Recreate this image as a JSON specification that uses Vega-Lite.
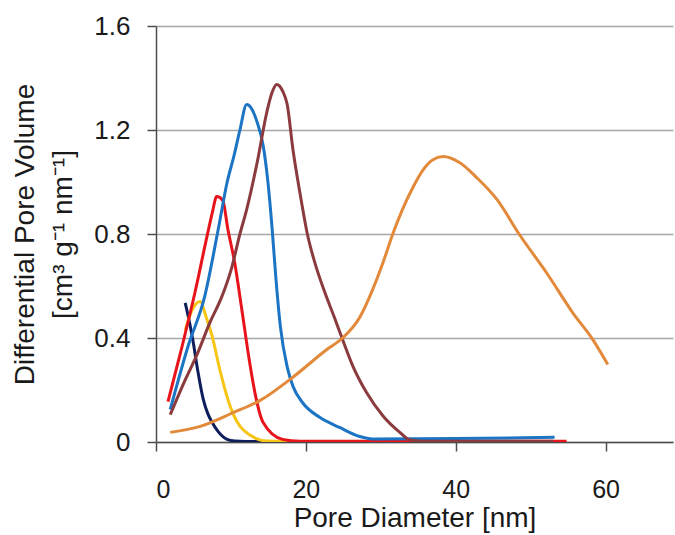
{
  "$schema": "https://vega.github.io/schema/vega-lite/v6.json",
  "width": 517,
  "height": 416,
  "autosize": {"type": "none"},
  "padding": {"left": 156, "top": 26, "right": 2, "bottom": 93},
  "background": "white",
  "config": {
    "view": {"stroke": null},
    "font": "Liberation Sans",
    "axis": {
      "labelFont": "Liberation Sans",
      "titleFont": "Liberation Sans",
      "labelColor": "#1a1a1a",
      "titleColor": "#1a1a1a",
      "titleFontWeight": "normal",
      "domainColor": "#4d4d4d",
      "domainWidth": 1.5,
      "tickColor": "#4d4d4d",
      "tickWidth": 1.5,
      "tickSize": 9
    }
  },
  "data": {
    "values": [
      {"s": "navy", "x": 3.9, "y": 0.535},
      {"s": "navy", "x": 4.4, "y": 0.47},
      {"s": "navy", "x": 4.9, "y": 0.395},
      {"s": "navy", "x": 5.6, "y": 0.27},
      {"s": "navy", "x": 6.3, "y": 0.165},
      {"s": "navy", "x": 6.9, "y": 0.11},
      {"s": "navy", "x": 7.5, "y": 0.075},
      {"s": "navy", "x": 8.3, "y": 0.04},
      {"s": "navy", "x": 9.5, "y": 0.01},
      {"s": "navy", "x": 10.5, "y": 0.004},
      {"s": "navy", "x": 12, "y": 0.002},
      {"s": "navy", "x": 20, "y": 0.001},
      {"s": "navy", "x": 48, "y": 0.001},

      {"s": "yellow", "x": 3.9, "y": 0.43},
      {"s": "yellow", "x": 4.7, "y": 0.5},
      {"s": "yellow", "x": 5.9, "y": 0.54},
      {"s": "yellow", "x": 6.7, "y": 0.48},
      {"s": "yellow", "x": 7.5, "y": 0.406},
      {"s": "yellow", "x": 8.5, "y": 0.28},
      {"s": "yellow", "x": 9.9, "y": 0.137},
      {"s": "yellow", "x": 11.6, "y": 0.048},
      {"s": "yellow", "x": 14.8, "y": 0.004},
      {"s": "yellow", "x": 20, "y": 0.002},
      {"s": "yellow", "x": 43, "y": 0.002},

      {"s": "red", "x": 1.6, "y": 0.155},
      {"s": "red", "x": 3.5, "y": 0.37},
      {"s": "red", "x": 5.2, "y": 0.575},
      {"s": "red", "x": 6.8, "y": 0.79},
      {"s": "red", "x": 7.5, "y": 0.88},
      {"s": "red", "x": 8.1, "y": 0.944},
      {"s": "red", "x": 8.9, "y": 0.93},
      {"s": "red", "x": 9.6, "y": 0.817},
      {"s": "red", "x": 10.5, "y": 0.69},
      {"s": "red", "x": 11.5, "y": 0.5},
      {"s": "red", "x": 12.5, "y": 0.306},
      {"s": "red", "x": 13.2, "y": 0.19},
      {"s": "red", "x": 14.3, "y": 0.075},
      {"s": "red", "x": 16.9, "y": 0.01},
      {"s": "red", "x": 19.2, "y": 0.003},
      {"s": "red", "x": 54.8, "y": 0.003},

      {"s": "blue", "x": 1.9, "y": 0.125},
      {"s": "blue", "x": 4.3, "y": 0.37},
      {"s": "blue", "x": 6.5, "y": 0.56},
      {"s": "blue", "x": 8.3, "y": 0.817},
      {"s": "blue", "x": 9.5, "y": 1.0},
      {"s": "blue", "x": 10.4, "y": 1.1},
      {"s": "blue", "x": 11.2, "y": 1.2},
      {"s": "blue", "x": 12.1, "y": 1.298},
      {"s": "blue", "x": 12.8, "y": 1.28},
      {"s": "blue", "x": 13.5, "y": 1.23},
      {"s": "blue", "x": 14.3, "y": 1.14},
      {"s": "blue", "x": 14.9, "y": 1.01},
      {"s": "blue", "x": 15.5, "y": 0.82},
      {"s": "blue", "x": 16.0, "y": 0.63},
      {"s": "blue", "x": 16.6, "y": 0.444},
      {"s": "blue", "x": 17.5, "y": 0.29},
      {"s": "blue", "x": 18.3, "y": 0.213},
      {"s": "blue", "x": 19.6, "y": 0.15},
      {"s": "blue", "x": 21.9, "y": 0.094},
      {"s": "blue", "x": 24.5, "y": 0.056},
      {"s": "blue", "x": 27.2, "y": 0.021},
      {"s": "blue", "x": 28.9, "y": 0.012},
      {"s": "blue", "x": 40, "y": 0.013},
      {"s": "blue", "x": 53.2, "y": 0.018},

      {"s": "brown", "x": 1.9, "y": 0.105},
      {"s": "brown", "x": 3.6, "y": 0.22},
      {"s": "brown", "x": 5.6, "y": 0.345},
      {"s": "brown", "x": 7.2, "y": 0.46},
      {"s": "brown", "x": 8.8, "y": 0.56},
      {"s": "brown", "x": 10.1, "y": 0.67},
      {"s": "brown", "x": 11.2, "y": 0.8},
      {"s": "brown", "x": 12.1, "y": 0.894},
      {"s": "brown", "x": 13.5, "y": 1.075},
      {"s": "brown", "x": 14.8, "y": 1.27},
      {"s": "brown", "x": 15.5, "y": 1.345},
      {"s": "brown", "x": 16.1, "y": 1.375},
      {"s": "brown", "x": 16.9, "y": 1.35},
      {"s": "brown", "x": 17.5, "y": 1.3},
      {"s": "brown", "x": 18.3, "y": 1.12},
      {"s": "brown", "x": 19.2, "y": 0.96},
      {"s": "brown", "x": 20.2, "y": 0.8},
      {"s": "brown", "x": 21.3, "y": 0.68},
      {"s": "brown", "x": 22.6, "y": 0.57},
      {"s": "brown", "x": 23.8, "y": 0.48},
      {"s": "brown", "x": 24.9, "y": 0.394},
      {"s": "brown", "x": 26.3, "y": 0.29},
      {"s": "brown", "x": 28.1, "y": 0.19},
      {"s": "brown", "x": 30.3, "y": 0.1},
      {"s": "brown", "x": 32.5, "y": 0.038},
      {"s": "brown", "x": 33.9, "y": 0.008},
      {"s": "brown", "x": 36, "y": 0.003},
      {"s": "brown", "x": 53, "y": 0.003},

      {"s": "orange", "x": 1.9, "y": 0.037},
      {"s": "orange", "x": 5.9, "y": 0.06},
      {"s": "orange", "x": 10.3, "y": 0.113},
      {"s": "orange", "x": 13.9, "y": 0.16},
      {"s": "orange", "x": 18.3, "y": 0.25},
      {"s": "orange", "x": 22.8, "y": 0.356},
      {"s": "orange", "x": 24.9, "y": 0.4},
      {"s": "orange", "x": 27.2, "y": 0.48},
      {"s": "orange", "x": 28.9, "y": 0.585},
      {"s": "orange", "x": 30.3, "y": 0.69},
      {"s": "orange", "x": 31.6, "y": 0.8},
      {"s": "orange", "x": 32.9, "y": 0.895},
      {"s": "orange", "x": 34.3, "y": 0.98},
      {"s": "orange", "x": 35.6, "y": 1.045},
      {"s": "orange", "x": 36.9, "y": 1.085},
      {"s": "orange", "x": 38.3, "y": 1.098},
      {"s": "orange", "x": 40.5, "y": 1.075},
      {"s": "orange", "x": 42.8, "y": 1.017},
      {"s": "orange", "x": 45.5, "y": 0.933},
      {"s": "orange", "x": 48.5, "y": 0.798},
      {"s": "orange", "x": 52.1, "y": 0.652},
      {"s": "orange", "x": 55.6, "y": 0.498},
      {"s": "orange", "x": 58.3, "y": 0.394},
      {"s": "orange", "x": 60.3, "y": 0.298}
    ]
  },
  "mark": {"type": "line", "strokeWidth": 3, "interpolate": "monotone", "clip": true},
  "encoding": {
    "x": {
      "field": "x",
      "type": "quantitative",
      "scale": {"domain": [0, 69], "nice": false, "zero": false},
      "axis": {
        "values": [0, 20, 40, 60],
        "grid": false,
        "labelFontSize": 25,
        "labelPadding": 26,
        "title": "Pore Diameter [nm]",
        "titleFontSize": 28,
        "titlePadding": 2
      }
    },
    "y": {
      "field": "y",
      "type": "quantitative",
      "scale": {"domain": [0, 1.6], "nice": false},
      "axis": {
        "values": [0, 0.4, 0.8, 1.2, 1.6],
        "labelExpr": "datum.value == 0 ? '0' : format(datum.value, '.1f')",
        "grid": true,
        "gridColor": "#a6a6a6",
        "gridWidth": 1.5,
        "labelFontSize": 26,
        "labelPadding": 17,
        "title": ["Differential Pore Volume", "[cm³ g⁻¹ nm⁻¹]"],
        "titleFontSize": 28,
        "titleLineHeight": 38,
        "titlePadding": 16
      }
    },
    "color": {
      "field": "s",
      "type": "nominal",
      "scale": {
        "domain": ["orange", "brown", "blue", "red", "yellow", "navy"],
        "range": ["#e3893a", "#8b3a3e", "#1c74c4", "#e8141c", "#f7c515", "#0e1d5c"]
      },
      "legend": null
    },
    "order": {"field": "x", "type": "quantitative"}
  }
}
